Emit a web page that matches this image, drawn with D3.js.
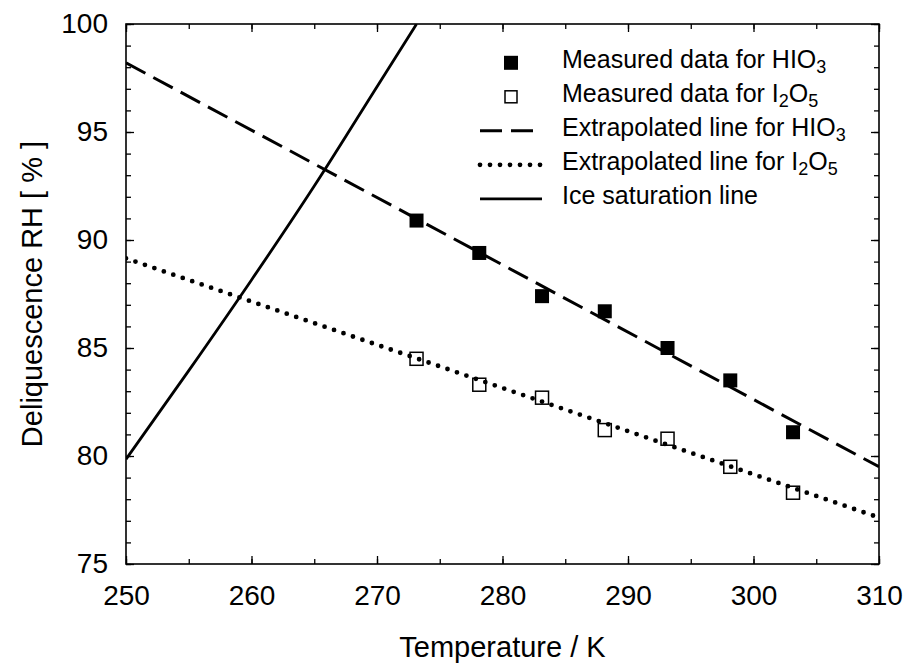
<!DOCTYPE html>
<html>
<head>
<meta charset="utf-8">
<script src="https://cdn.jsdelivr.net/npm/d3@7"></script>
<style>
  body { margin: 0; background: #fff; }
  svg text { font-family: "Liberation Sans", Arial, Helvetica, sans-serif; fill: #000; }
</style>
</head>
<body>
<svg id="chart"></svg>
<script>
// measured points
const measuredT = [273.15, 278.15, 283.15, 288.15, 293.15, 298.15, 303.15];
const rhHIO3 = [90.9, 89.4, 87.4, 86.7, 85.0, 83.5, 81.1];
const rhI2O5 = [84.5, 83.3, 82.7, 81.2, 80.8, 79.5, 78.3];

// fitted / extrapolated lines
const fitT = [250, 310];
const fitHIO3 = [98.2, 79.5];
const fitI2O5 = [89.15, 77.15];

// ice saturation curve
const iceT = [250, 255, 260, 265, 270, 273.15];
const iceRH = [79.85, 83.95, 88.15, 92.5, 97.1, 100];

const xTicks = [250, 260, 270, 280, 290, 300, 310];
const yTicks = [75, 80, 85, 90, 95, 100];
const xMinor = d3.range(250, 311, 5);
const yMinor = d3.range(75, 101, 1);

// legend labels as [text, isSubscript] pieces
const legendLabels = [
  [["Measured data for HIO", 0], ["3", 1]],
  [["Measured data for I", 0], ["2", 1], ["O", 0], ["5", 1]],
  [["Extrapolated line for HIO", 0], ["3", 1]],
  [["Extrapolated line for I", 0], ["2", 1], ["O", 0], ["5", 1]],
  [["Ice saturation line", 0]]
];

const w = 904;
const h = 664;
const m = { top: 24, right: 25, bottom: 100, left: 126 };

const svg = d3.select("#chart").attr("width", w).attr("height", h);

const xScale = d3.scaleLinear().domain([250, 310]).range([m.left, w - m.right]);
const yScale = d3.scaleLinear().domain([75, 100]).range([h - m.bottom, m.top]);

svg.append("clipPath").attr("id", "plot-clip")
  .append("rect")
  .attr("x", m.left).attr("y", m.top)
  .attr("width", w - m.left - m.right).attr("height", h - m.top - m.bottom);

// minor ticks on all four sides
const minor = [
  [d3.axisBottom(xScale).tickValues(xMinor), `translate(0,${h - m.bottom})`],
  [d3.axisTop(xScale).tickValues(xMinor), `translate(0,${m.top})`],
  [d3.axisLeft(yScale).tickValues(yMinor), `translate(${m.left},0)`],
  [d3.axisRight(yScale).tickValues(yMinor), `translate(${w - m.right},0)`]
];
minor.forEach(([ax, tr]) => {
  const g = svg.append("g").attr("transform", tr)
    .call(ax.tickSize(-5).tickFormat(""));
  g.select(".domain").remove();
  g.selectAll("line").attr("stroke-width", 1.3);
});

// major ticks
const xAxis = svg.append("g")
  .attr("transform", `translate(0,${h - m.bottom})`)
  .call(d3.axisBottom(xScale).tickValues(xTicks).tickSize(-8).tickPadding(21));
const yAxis = svg.append("g")
  .attr("transform", `translate(${m.left},0)`)
  .call(d3.axisLeft(yScale).tickValues(yTicks).tickSize(-8).tickPadding(18));
const xTop = svg.append("g")
  .attr("transform", `translate(0,${m.top})`)
  .call(d3.axisTop(xScale).tickValues(xTicks).tickSize(-8).tickFormat(""));
const yRight = svg.append("g")
  .attr("transform", `translate(${w - m.right},0)`)
  .call(d3.axisRight(yScale).tickValues(yTicks).tickSize(-8).tickFormat(""));

[xAxis, yAxis, xTop, yRight].forEach((g) => {
  g.select(".domain").remove();
  g.selectAll("line").attr("stroke-width", 1.3);
  g.selectAll("text").attr("font-size", 28).attr("font-family", null);
});

// frame
svg.append("rect")
  .attr("x", m.left).attr("y", m.top)
  .attr("width", w - m.left - m.right).attr("height", h - m.top - m.bottom)
  .attr("fill", "none").attr("stroke", "#000").attr("stroke-width", 1.6);

// axis titles
svg.append("text")
  .attr("x", (m.left + w - m.right) / 2)
  .attr("y", 657)
  .attr("text-anchor", "middle")
  .attr("font-size", 29)
  .text("Temperature / K");

svg.append("text")
  .attr("transform", `translate(42,${(m.top + h - m.bottom) / 2}) rotate(-90)`)
  .attr("text-anchor", "middle")
  .attr("font-size", 29)
  .text("Deliquescence RH [ % ]");

// measured squares
const plot = svg.append("g").attr("clip-path", "url(#plot-clip)");

plot.selectAll(".hio3")
  .data(measuredT.map((t, i) => [t, rhHIO3[i]]))
  .enter().append("rect")
  .attr("class", "hio3")
  .attr("x", (d) => xScale(d[0]) - 7)
  .attr("y", (d) => yScale(d[1]) - 7)
  .attr("width", 14).attr("height", 14)
  .attr("fill", "#000");

plot.selectAll(".i2o5")
  .data(measuredT.map((t, i) => [t, rhI2O5[i]]))
  .enter().append("rect")
  .attr("class", "i2o5")
  .attr("x", (d) => xScale(d[0]) - 6.5)
  .attr("y", (d) => yScale(d[1]) - 6.5)
  .attr("width", 13).attr("height", 13)
  .attr("fill", "none").attr("stroke", "#000").attr("stroke-width", 1.5);

// lines
const line = d3.line().x((d) => xScale(d[0])).y((d) => yScale(d[1]));

const styles = {
  dashed: { dash: "22,9", width: 3, cap: "butt" },
  dotted: { dash: "0,10", width: 4.8, cap: "round" },
  solid: { dash: null, width: 2.8, cap: "butt" }
};

function drawLine(g, pts, st, curve) {
  g.append("path")
    .datum(pts)
    .attr("d", line.curve(curve || d3.curveLinear)(pts))
    .attr("fill", "none")
    .attr("stroke", "#000")
    .attr("stroke-width", st.width)
    .attr("stroke-dasharray", st.dash)
    .attr("stroke-linecap", st.cap);
}

drawLine(plot, fitT.map((t, i) => [t, fitHIO3[i]]), styles.dashed);
drawLine(plot, fitT.map((t, i) => [t, fitI2O5[i]]), styles.dotted);
drawLine(plot, iceT.map((t, i) => [t, iceRH[i]]), styles.solid, d3.curveMonotoneX);

// legend
const legend = svg.append("g");
const rowY = (i) => 68.3 + i * 34;
const sampleX = 511;

legend.append("rect")
  .attr("x", sampleX - 7).attr("y", rowY(0) - 12.5)
  .attr("width", 14).attr("height", 14).attr("fill", "#000");
legend.append("rect")
  .attr("x", sampleX - 6).attr("y", rowY(1) - 11.5)
  .attr("width", 12).attr("height", 12)
  .attr("fill", "none").attr("stroke", "#000").attr("stroke-width", 1.5);

[[2, styles.dashed], [3, styles.dotted], [4, styles.solid]].forEach(([i, st]) => {
  legend.append("line")
    .attr("x1", 480).attr("x2", 542)
    .attr("y1", rowY(i) - 5.5).attr("y2", rowY(i) - 5.5)
    .attr("stroke", "#000")
    .attr("stroke-width", st.width)
    .attr("stroke-dasharray", st.dash)
    .attr("stroke-linecap", st.cap);
});

legendLabels.forEach((pieces, i) => {
  const t = legend.append("text")
    .attr("x", 562).attr("y", rowY(i))
    .attr("font-size", 25);
  let shifted = 0;
  pieces.forEach(([s, sub]) => {
    const dy = sub === shifted ? 0 : (sub ? 5 : -5);
    shifted = sub;
    t.append("tspan")
      .attr("dy", dy)
      .attr("font-size", sub ? 18 : 25)
      .text(s);
  });
});
</script>
</body>
</html>
